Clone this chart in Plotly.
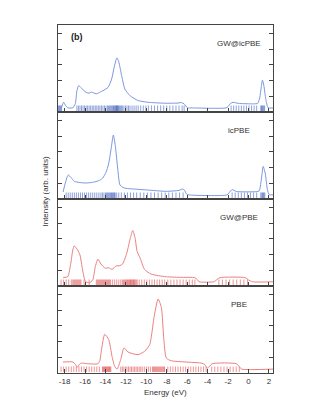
import plotly.graph_objects as go
from plotly.subplots import make_subplots

# ---------------- data ----------------
panel_names = ["GW@icPBE", "icPBE", "GW@PBE", "PBE"]

# DOS curves (energy in eV, intensity in arb. units)
gwic_E = [-18.3, -18.1, -17.9, -17.7, -17.2, -16.95, -16.8, -16.63, -16.4, -15.9, -15.6, -15.4, -15.15, -14.9,
          -14.5, -14.25, -13.75, -13.4, -13.1, -12.88, -12.7, -12.45, -12.1, -11.6, -10.8, -9.83, -8.2, -6.9,
          -6.57, -6.3, -5.98, -5.5, -2.2, -2.0, -1.75, -1.5, -1.0, 0.5, 0.9, 1.1, 1.25, 1.37, 1.5, 1.7, 1.93, 2.4]
gwic_I = [0.3, 0.62, 0.4, 0.27, 0.27, 0.55, 1.35, 1.68, 1.55, 1.25, 1.2, 1.27, 1.22, 1.16,
          1.28, 1.36, 1.57, 2.1, 3.0, 3.45, 3.2, 2.42, 1.46, 1.04, 0.73, 0.62, 0.56, 0.57,
          0.6, 0.52, 0.27, 0.26, 0.26, 0.35, 0.55, 0.62, 0.55, 0.52, 0.55, 0.9, 1.6, 2.03, 1.7, 0.8, 0.27, 0.26]

ic_E = [-18.15, -17.9, -17.65, -17.35, -17.06, -16.5, -15.9, -15.4, -14.93, -14.5, -14.27, -13.95, -13.7,
        -13.45, -13.23, -13.04, -12.8, -12.58, -12.3, -11.99, -10.0, -8.07, -6.8, -6.45, -6.25, -6.07, -5.8,
        -2.1, -1.9, -1.6, -1.2, 0.8, 1.05, 1.25, 1.44, 1.65, 1.85, 2.03, 2.4]
ic_I = [0.45, 1.1, 1.53, 1.35, 1.13, 1.05, 1.02, 1.05, 1.11, 1.22, 1.34, 1.70, 2.23,
        3.2, 4.08, 3.4, 1.91, 0.89, 0.74, 0.68, 0.58, 0.49, 0.55, 0.64, 0.55, 0.32, 0.26,
        0.26, 0.4, 0.6, 0.48, 0.47, 0.52, 1.2, 2.08, 1.6, 0.6, 0.28, 0.26]

gwp_E = [-18.15, -17.7, -17.4, -17.2, -17.06, -16.9, -16.73, -16.5, -16.24, -15.98, -15.6, -15.25, -15.0,
         -14.74, -14.44, -14.02, -13.7, -13.36, -12.97, -12.6, -12.31, -11.92, -11.55, -11.33, -11.1, -10.9,
         -10.6, -10.18, -9.53, -8.06, -6.5, -5.25, -5.0, -4.84, -3.4, -3.2, -2.8, -0.3, -0.03, 0.39, 2.4]
gwp_I = [0.55, 0.59, 1.45, 2.3, 2.56, 2.45, 2.3, 1.98, 1.02, 0.31, 0.2, 0.38, 1.23,
         1.71, 1.4, 1.13, 1.17, 1.06, 1.28, 1.3, 1.42, 2.09, 3.1, 3.54, 3.05, 2.19,
         1.77, 1.06, 0.76, 0.59, 0.55, 0.53, 0.4, 0.27, 0.27, 0.35, 0.53, 0.53, 0.4, 0.27, 0.27]

pbe_E = [-18.17, -17.19, -16.95, -16.76, -16.55, -16.37, -15.72, -14.74, -14.55, -14.41, -14.08, -13.69,
         -13.36, -13.1, -12.87, -12.51, -12.19, -11.8, -10.81, -10.16, -9.67, -9.45, -9.25, -8.85, -8.53,
         -8.3, -8.04, -7.55, -4.6, -4.3, -4.02, -3.56, -1.18, -0.9, -0.69, 2.4]
pbe_I = [0.70, 0.70, 0.55, 0.37, 0.55, 0.63, 0.59, 0.59, 0.8, 1.39, 2.46, 2.14,
         1.06, 0.42, 0.25, 0.85, 1.6, 1.34, 1.17, 1.39, 1.81, 2.6, 3.54, 4.72, 4.18,
         2.25, 0.95, 0.78, 0.63, 0.55, 0.31, 0.59, 0.59, 0.4, 0.25, 0.25]

# eigenvalue "rug" marks (eV)
gwic_levels = [-18.6, -18.52, -18.45, -18.38, -18.3,
               -16.8, -16.65, -16.5, -16.35, -16.2, -16.05, -15.9, -15.75, -15.6, -15.45, -15.3, -15.15, -15.0,
               -14.85, -14.7, -14.55, -14.4, -14.25, -14.1, -13.95, -13.8, -13.7, -13.6, -13.5, -13.4, -13.3,
               -13.22, -13.15, -13.08, -13.0, -12.95, -12.9, -12.85, -12.8, -12.72, -12.65, -12.55, -12.45,
               -12.35, -12.2, -12.05, -11.9, -11.75, -11.6, -11.4, -11.2, -11.0, -10.8, -10.55, -10.3, -10.05,
               -9.8, -9.5, -9.2, -8.9, -8.6, -8.3, -8.0, -7.7, -7.4, -7.1, -6.8, -6.5, -6.3,
               -1.7, -1.45, -1.2, -0.95, -0.7, -0.45, -0.2, 0.05, 0.3, 0.55, 0.8,
               1.2, 1.28, 1.35, 1.42, 1.5, 1.58]
ic_levels = [-17.85, -17.65, -17.45, -17.25, -17.05, -16.85, -16.65, -16.45, -16.25, -16.05, -15.85, -15.65,
             -15.45, -15.25, -15.05, -14.85, -14.65, -14.45, -14.3, -14.15, -14.0, -13.9, -13.8, -13.7, -13.6,
             -13.5, -13.42, -13.35, -13.28, -13.2, -13.12, -13.05, -12.9, -12.7, -12.45, -12.15, -11.85, -11.55,
             -11.25, -10.95, -10.6, -10.25, -9.9, -9.55, -9.2, -8.85, -8.5, -8.15, -7.8, -7.45, -7.1, -6.75, -6.4,
             -1.6, -1.3, -1.0, -0.7, -0.4, -0.1, 0.2, 0.5, 0.8,
             1.2, 1.3, 1.38, 1.45, 1.52, 1.6]
gwp_levels = [-18.35, -18.1, -17.85, -17.6, -17.35, -17.2, -17.1, -17.0, -16.9, -16.8, -16.7, -16.6, -16.5, -16.4,
              -16.1, -15.6, -14.9, -14.8, -14.7, -14.6, -14.5, -14.4, -14.3, -14.2, -14.1, -14.0, -13.9, -13.8,
              -13.7, -13.6, -13.5, -13.3, -13.1, -12.9, -12.7, -12.5, -12.35, -12.25, -12.15, -12.05, -11.95,
              -11.85, -11.78, -11.7, -11.62, -11.55, -11.48, -11.4, -11.32, -11.25, -11.18, -11.1, -11.0, -10.9,
              -10.7, -10.45, -10.2, -9.95, -9.7, -9.45, -9.2, -8.95, -8.7, -8.45, -8.2, -7.9, -7.6, -7.3, -7.0,
              -6.7, -6.4, -6.1, -5.8, -5.5, -5.25,
              -2.9, -2.55, -2.2, -1.85, -1.5, -1.15, -0.8, -0.45, -0.1]
pbe_levels = [-18.35, -18.1, -17.85, -17.6, -17.35, -17.1, -16.85, -16.6, -16.35, -16.1, -15.85, -15.6, -15.35,
              -15.1, -14.85, -14.6, -14.3, -14.22, -14.15, -14.08, -14.0, -13.92, -13.85, -13.78, -13.7, -13.62,
              -13.55, -13.48, -12.5, -12.35, -12.2, -12.05, -11.9, -11.75, -11.6, -11.45, -11.3, -11.15, -11.0,
              -10.85, -10.7, -10.55, -10.4, -10.2, -10.0, -9.8, -9.6, -9.4, -9.3, -9.2, -9.1, -9.0, -8.9, -8.8,
              -8.7, -8.6, -8.5, -8.4, -8.3, -8.22, -7.9, -7.65, -7.4, -7.15, -6.9, -6.65, -6.4, -6.15, -5.9,
              -5.65, -5.4, -5.15, -4.9, -4.65, -4.4, -4.15,
              -3.6, -3.3, -3.0, -2.7, -2.4, -2.1, -1.8, -1.5, -1.2, -0.9]

x_tick_vals = [-18, -16, -14, -12, -10, -8, -6, -4, -2, 0, 2]
x_tick_text = ["-18", "-16", "-14", "-12", "-10", "-8", "-6", "-4", "-2", "0", "2"]
y_tick_vals = [1, 2, 3, 4, 5]

# ---------------- figure ----------------
BLUE_LINE = "rgb(122,152,222)"
BLUE_RUG = "rgba(20,60,175,0.48)"
RED_LINE = "rgb(236,128,128)"
RED_RUG = "rgba(210,0,0,0.42)"

curves = [(gwic_E, gwic_I, gwic_levels, BLUE_LINE, BLUE_RUG),
          (ic_E, ic_I, ic_levels, BLUE_LINE, BLUE_RUG),
          (gwp_E, gwp_I, gwp_levels, RED_LINE, RED_RUG),
          (pbe_E, pbe_I, pbe_levels, RED_LINE, RED_RUG)]

fig = make_subplots(rows=4, cols=1, shared_xaxes=True, vertical_spacing=0)
FONT = "Liberation Sans, Arial, sans-serif"
AX = "#444444"

for i, (E, I, lv, lc, rc) in enumerate(curves):
    r = i + 1
    fig.add_trace(go.Scatter(x=lv, y=[0.24] * len(lv), mode="markers",
                             marker=dict(symbol="line-ns", size=3.9, line=dict(width=1, color=rc)),
                             hoverinfo="skip", showlegend=False), row=r, col=1)
    fig.add_trace(go.Scatter(x=E, y=I, mode="lines",
                             line=dict(color=lc, width=1, shape="spline", smoothing=0.6),
                             showlegend=False), row=r, col=1)
    fig.update_yaxes(range=[0, 5.55], tickvals=y_tick_vals, showticklabels=False,
                     ticks="inside", ticklen=4, tickcolor=AX, showline=True, linecolor=AX,
                     linewidth=1, mirror="ticks", showgrid=False, zeroline=False, row=r, col=1)
    fig.update_xaxes(range=[-18.65, 2.4], tickvals=x_tick_vals, ticktext=x_tick_text,
                     ticks="inside", ticklen=4, tickcolor=AX, showline=True, linecolor=AX,
                     linewidth=1, mirror=True, showgrid=False, zeroline=False,
                     tickfont=dict(size=8, color="#333", family=FONT), row=r, col=1)
    xref = "x" if r == 1 else f"x{r}"
    yref = "y domain" if r == 1 else f"y{r} domain"
    fig.add_annotation(text=panel_names[i], x=-0.9, xref=xref, y=0.79, yref=yref,
                       showarrow=False, font=dict(size=8, color="#333", family=FONT),
                       xanchor="center", yanchor="middle")

fig.add_annotation(text="<b>(b)</b>", x=-16.8, xref="x", y=0.86, yref="y domain",
                   showarrow=False, font=dict(size=9, color="#222", family=FONT),
                   xanchor="center", yanchor="middle")
fig.add_annotation(text="Intensity (arb. units)", textangle=-90, x=-0.058, xref="paper",
                   y=0.523, yref="paper", showarrow=False,
                   font=dict(size=8, color="#333", family=FONT), xanchor="center", yanchor="middle")
fig.add_annotation(text="Energy (eV)", x=0.5, xref="paper", y=-0.055, yref="paper",
                   showarrow=False, font=dict(size=8, color="#333", family=FONT),
                   xanchor="center", yanchor="middle")

fig.update_layout(width=310, height=402, margin=dict(l=50, r=45, t=17, b=37),
                  paper_bgcolor="white", plot_bgcolor="white",
                  font=dict(family=FONT, size=8, color="#333"), showlegend=False)

fig.write_html("out.html")
